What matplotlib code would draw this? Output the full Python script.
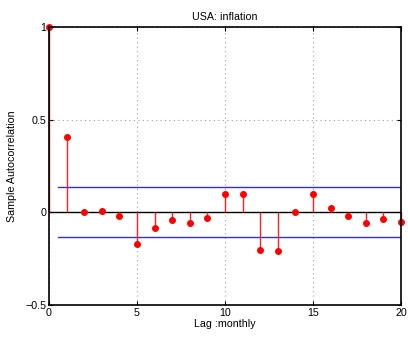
import matplotlib
matplotlib.use("Agg")
import matplotlib.pyplot as plt

# sample autocorrelation of monthly inflation, lags 0..20
lags = list(range(21))
acf = [1.0, 0.405, 0.0, 0.005, -0.018, -0.172, -0.084, -0.039, -0.059, -0.030,
       0.097, 0.097, -0.201, -0.207, 0.0, 0.101, 0.025, -0.020, -0.057, -0.036, -0.053]
bound = 0.135

plt.rcParams["font.family"] = ["Liberation Sans", "DejaVu Sans"]
plt.rcParams["font.size"] = 7.7

fig = plt.figure(figsize=(4.08, 3.38), dpi=100)
ax = fig.add_axes([0.120, 0.0976, 0.863, 0.822])

ax.axhline(0, color="black", lw=1.0, zorder=2)
ax.plot([0.5, 20.5], [bound, bound], color="#3030e0", lw=1.0, zorder=2)
ax.plot([0.5, 20.5], [-bound, -bound], color="#3030e0", lw=1.0, zorder=2)

ml, sl, bl = ax.stem(lags, acf, basefmt=" ")
plt.setp(sl, color="#ff2020", lw=1.0)
plt.setp(ml, color="red", marker="o", markersize=4)
ml.set_clip_on(False)
sl.set_clip_on(False)

ax.set_xlim(0, 20)
ax.set_ylim(-0.5, 1)
ax.set_xticks([0, 5, 10, 15, 20])
ax.set_yticks([-0.5, 0, 0.5, 1])
ax.set_yticklabels(["\u22120.5", "0", "0.5", "1"])
ax.grid(True, linestyle=(0, (1, 3)), color="#a0a0a0", lw=0.8)
ax.tick_params(direction="in", length=3, pad=2, top=True, right=True)
for s in ax.spines.values():
    s.set_linewidth(1.2)

ax.set_title("USA: inflation", fontsize=7.7, pad=5)
ax.set_xlabel("Lag :monthly", labelpad=1)
ax.set_ylabel("Sample Autocorrelation", labelpad=6)

fig.savefig("out.png", dpi=100)
